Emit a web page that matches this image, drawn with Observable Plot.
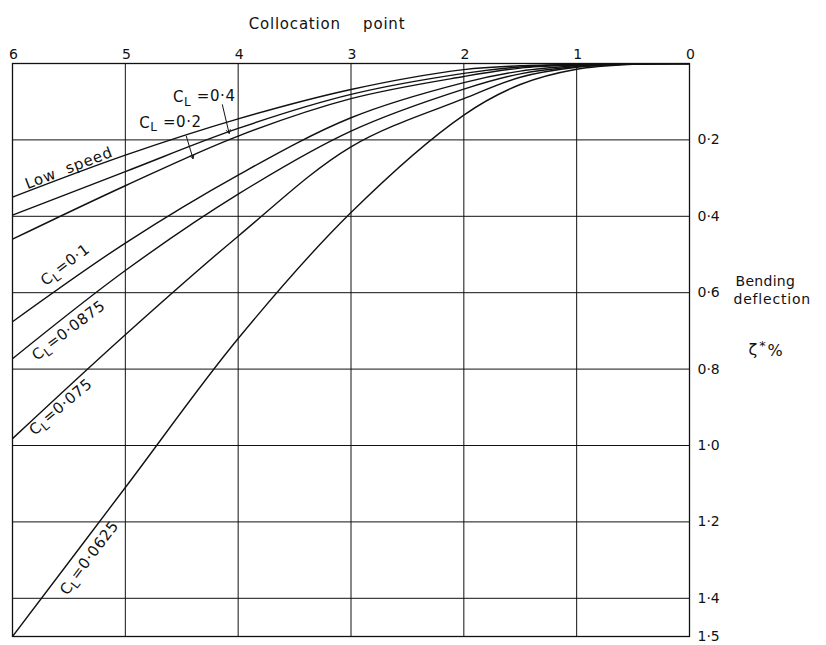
<!DOCTYPE html>
<html>
<head>
<meta charset="utf-8">
<script src="https://cdn.jsdelivr.net/npm/d3@7"></script>
<script src="https://cdn.jsdelivr.net/npm/@observablehq/plot@0.6"></script>
<style>
  body { margin: 0; background: #fff; }
  svg text { white-space: pre; }
</style>
</head>
<body>
<div id="chart"></div>
<script>
// Collocation points (abscissa) shared by every curve
const collocation = [0, 0.5, 1, 1.5, 2, 3, 4, 5, 6];

// Bending deflection ζ*% at each collocation point
const lowSpeed = [0, 0, 0.002, 0.006, 0.016, 0.068, 0.145, 0.24, 0.35];
const cl04     = [0, 0, 0.003, 0.009, 0.026, 0.081, 0.17, 0.283, 0.397];
const cl02     = [0, 0.0005, 0.004, 0.012, 0.034, 0.092, 0.19, 0.32, 0.46];
const cl01     = [0, 0.001, 0.006, 0.02, 0.05, 0.142, 0.292, 0.47, 0.676];
const cl00875  = [0, 0.001, 0.008, 0.027, 0.067, 0.177, 0.342, 0.542, 0.773];
const cl0075   = [0, 0.001, 0.01, 0.036, 0.092, 0.218, 0.452, 0.71, 0.982];
const cl00625  = [0, 0.002, 0.015, 0.055, 0.135, 0.39, 0.72, 1.11, 1.5];

const seriesNames  = ["Low speed", "CL=0.4", "CL=0.2", "CL=0.1", "CL=0.0875", "CL=0.075", "CL=0.0625"];
const seriesValues = [lowSpeed, cl04, cl02, cl01, cl00875, cl0075, cl00625];

// Axis ticks
const xTicks = [6, 5, 4, 3, 2, 1, 0];
const yTicks = [0.2, 0.4, 0.6, 0.8, 1.0, 1.2, 1.4, 1.5];
const yGrid  = [0, 0.2, 0.4, 0.6, 0.8, 1.0, 1.2, 1.4, 1.5];

// Curve annotations (anchored in data units)
const labelText  = ["Low  speed", "C_L =0·4", "C_L =0·2", "C_L=0·1", "C_L=0·0875", "C_L=0·075", "C_L=0·0625"];
const labelX     = [5.50, 4.30, 4.60, 5.53, 5.50, 5.57, 5.315];
const labelY     = [0.274, 0.088, 0.155, 0.528, 0.70, 0.90, 1.295];
const labelAngle = [-21, 0, 0, -37, -37, -40, -53];

// Leader arrows from the two upper labels to their curves
const arrowFromX = [4.14, 4.46];
const arrowFromY = [0.108, 0.19];
const arrowToX   = [4.08, 4.40];
const arrowToY   = [0.183, 0.249];

const rows = seriesNames.flatMap((name, i) =>
  collocation.map((x, j) => ({series: name, x, y: seriesValues[i][j]}))
);
const labels = labelText.map((t, i) => ({text: t, x: labelX[i], y: labelY[i], angle: labelAngle[i]}));
const arrows = arrowFromX.map((_, i) => ({x1: arrowFromX[i], y1: arrowFromY[i], x2: arrowToX[i], y2: arrowToY[i]}));

const ink = "#111";
const dot = d => d3.format(".1f")(d).replace(".", "·");

const chart = Plot.plot({
  width: 826,
  height: 645,
  marginLeft: 12,
  marginRight: 137,
  marginTop: 63,
  marginBottom: 9,
  style: {fontFamily: "DejaVu Sans, sans-serif", fontSize: "14px", color: ink, background: "#fff"},
  x: {domain: [0, 6], reverse: true},
  y: {domain: [0, 1.5], reverse: true},
  marks: [
    Plot.ruleX(xTicks, {stroke: ink, strokeWidth: 1}),
    Plot.ruleY(yGrid, {stroke: ink, strokeWidth: 1}),
    Plot.line(rows, {x: "x", y: "y", z: "series", curve: "catmull-rom", clip: "frame", stroke: ink, strokeWidth: 1.4}),
    Plot.frame({stroke: ink, strokeWidth: 1.3}),
    Plot.axisX(xTicks, {anchor: "top", tickSize: 0, tickPadding: 5, fontSize: 14, dx: 1, label: null, tickFormat: d => String(d)}),
    Plot.axisY(yTicks, {anchor: "right", tickSize: 0, tickPadding: 8, fontSize: 14, label: null, tickFormat: dot}),
    Plot.text(labels, {x: "x", y: "y", text: "text", rotate: "angle", fontSize: 15, fill: ink}),
    Plot.arrow(arrows, {x1: "x1", y1: "y1", x2: "x2", y2: "y2", stroke: ink, strokeWidth: 1, headLength: 6}),
    Plot.text(["Collocation    point"], {frameAnchor: "top", dx: -24, dy: -45, fontSize: 15, fill: ink}),
    Plot.text(["Bending"], {frameAnchor: "right", textAnchor: "start", dx: 46, dy: -68, fontSize: 14, fill: ink}),
    Plot.text(["deflection"], {frameAnchor: "right", textAnchor: "start", dx: 44, dy: -50, fontSize: 14, fill: ink}),
    Plot.text(["ζ*%"], {frameAnchor: "right", textAnchor: "start", dx: 59, dy: 0, fontSize: 16, fill: ink})
  ]
});

const svg = d3.select(chart);

// Render the "L" of C_L as a subscript
svg.selectAll("text").each(function () {
  const s = this.textContent;
  if (!s.startsWith("C_L")) return;
  const rest = s.slice(3);
  const t = d3.select(this).style("letter-spacing", "0.6px");
  t.text(null);
  t.append("tspan").text("C");
  t.append("tspan").attr("dy", "0.3em").attr("font-size", "0.8em").text("L");
  t.append("tspan").attr("dy", "-0.3em").text(rest);
});

// Raise the asterisk of ζ*
svg.selectAll("text").each(function () {
  if (this.textContent !== "ζ*%") return;
  const t = d3.select(this).style("letter-spacing", "2px");
  t.text(null);
  t.append("tspan").text("ζ");
  t.append("tspan").attr("dy", "-0.4em").attr("font-size", "0.8em").text("*");
  t.append("tspan").attr("dy", "0.4em").text("%");
});

// Wider lettering for the titles
svg.selectAll("text").each(function () {
  const s = this.textContent;
  if (s.startsWith("Collocation") || s === "deflection" || s.startsWith("Low")) {
    d3.select(this).style("letter-spacing", "0.8px");
  } else if (s === "Bending") {
    d3.select(this).style("letter-spacing", "0.3px");
  }
});

document.getElementById("chart").appendChild(chart);
</script>
</body>
</html>
